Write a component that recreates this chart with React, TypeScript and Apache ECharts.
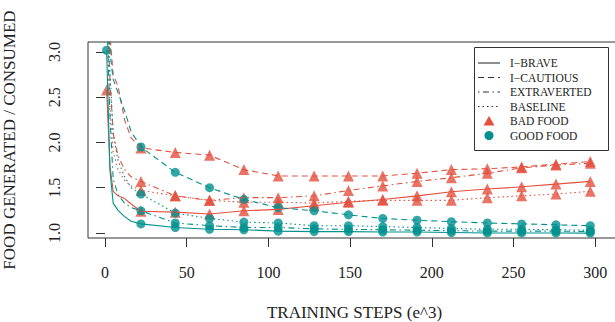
import React, { useEffect, useRef } from "react";
import * as echarts from "echarts";

const STEPS = [1, 22, 43, 64, 85, 106, 128, 149, 170, 191, 212, 234, 255, 276, 297];
const EARLY_STEPS = [3, 5, 8, 12, 16];

const BRAVE_BAD = [2.58, 1.24, 1.23, 1.21, 1.245, 1.26, 1.3, 1.34, 1.37, 1.41, 1.455, 1.485, 1.51, 1.54, 1.57];
const CAUTIOUS_BAD = [3.8, 1.94, 1.89, 1.86, 1.7, 1.63, 1.63, 1.63, 1.63, 1.66, 1.7, 1.71, 1.73, 1.76, 1.79];
const EXTRA_BAD = [3.6, 1.57, 1.41, 1.36, 1.39, 1.39, 1.41, 1.47, 1.52, 1.57, 1.61, 1.66, 1.72, 1.75, 1.77];
const BASE_BAD = [3.4, 1.47, 1.41, 1.36, 1.34, 1.34, 1.33, 1.35, 1.36, 1.36, 1.36, 1.39, 1.41, 1.43, 1.46];

const BRAVE_GOOD = [3.02, 1.1, 1.06, 1.04, 1.035, 1.02, 1.015, 1.015, 1.01, 1.01, 1.005, 1.0, 1.0, 1.0, 0.998];
const CAUTIOUS_GOOD = [3.7, 1.95, 1.67, 1.5, 1.37, 1.28, 1.245, 1.2, 1.16, 1.14, 1.125, 1.11, 1.1, 1.09, 1.08];
const EXTRA_GOOD = [3.5, 1.245, 1.11, 1.08, 1.06, 1.06, 1.045, 1.04, 1.035, 1.03, 1.025, 1.02, 1.02, 1.02, 1.015];
const BASE_GOOD = [3.6, 1.43, 1.22, 1.16, 1.12, 1.11, 1.08, 1.08, 1.07, 1.06, 1.05, 1.04, 1.04, 1.035, 1.03];

const BRAVE_BAD_EARLY = [1.75, 1.46, 1.41, 1.38, 1.32];
const CAUTIOUS_BAD_EARLY = [3.2, 2.75, 2.62, 2.25, 2.05];
const EXTRA_BAD_EARLY = [2.7, 2.1, 1.85, 1.7, 1.62];
const BASE_BAD_EARLY = [2.4, 1.9, 1.7, 1.58, 1.52];
const BRAVE_GOOD_EARLY = [1.7, 1.33, 1.25, 1.18, 1.13];
const CAUTIOUS_GOOD_EARLY = [3.0, 2.7, 2.55, 2.35, 2.12];
const EXTRA_GOOD_EARLY = [2.3, 1.6, 1.42, 1.33, 1.28];
const BASE_GOOD_EARLY = [2.8, 2.1, 1.8, 1.62, 1.5];

const X_TICKS = [0, 50, 100, 150, 200, 250, 300];
const Y_TICKS = [1.0, 1.5, 2.0, 2.5, 3.0];

const LEGEND_LABELS = ["I\u2212BRAVE", "I\u2212CAUTIOUS", "EXTRAVERTED", "BASELINE", "BAD FOOD", "GOOD FOOD"];

const RED = "#E4503F";
const TEAL = "#00918E";
const FONT = "'Liberation Serif', 'Times New Roman', serif";

const DASHES: Record<string, any> = {
  solid: "solid",
  dashed: [6, 4],
  dotdash: [1.5, 3.5, 6, 3.5],
  dotted: [1.5, 3],
};

function merge(early: number[], main: number[]) {
  const pts: number[][] = [];
  pts.push([STEPS[0], main[0]]);
  EARLY_STEPS.forEach((s, i) => pts.push([s, early[i]]));
  for (let i = 1; i < STEPS.length; i++) pts.push([STEPS[i], main[i]]);
  return pts;
}

export default function App() {
  const ref = useRef<HTMLDivElement>(null);
  useEffect(() => {
    if (!ref.current) return;
    const chart = echarts.init(ref.current, null, { renderer: "svg" });

    const groups = [
      { main: BRAVE_BAD, early: BRAVE_BAD_EARLY, color: RED, dash: "solid", sym: "triangle" },
      { main: CAUTIOUS_BAD, early: CAUTIOUS_BAD_EARLY, color: RED, dash: "dashed", sym: "triangle" },
      { main: EXTRA_BAD, early: EXTRA_BAD_EARLY, color: RED, dash: "dotdash", sym: "triangle" },
      { main: BASE_BAD, early: BASE_BAD_EARLY, color: RED, dash: "dotted", sym: "triangle" },
      { main: BRAVE_GOOD, early: BRAVE_GOOD_EARLY, color: TEAL, dash: "solid", sym: "circle" },
      { main: CAUTIOUS_GOOD, early: CAUTIOUS_GOOD_EARLY, color: TEAL, dash: "dashed", sym: "circle" },
      { main: EXTRA_GOOD, early: EXTRA_GOOD_EARLY, color: TEAL, dash: "dotdash", sym: "circle" },
      { main: BASE_GOOD, early: BASE_GOOD_EARLY, color: TEAL, dash: "dotted", sym: "circle" },
    ];

    const series: any[] = [];
    groups.forEach((g) => {
      series.push({
        type: "line",
        data: merge(g.early, g.main),
        showSymbol: false,
        symbol: "none",
        clip: true,
        lineStyle: { color: g.color, width: 1.1, type: DASHES[g.dash] },
        silent: true,
      });
      series.push({
        type: "scatter",
        data: STEPS.map((s, i) => [s, g.main[i]]),
        symbol: g.sym,
        symbolSize: g.sym === "triangle" ? 11 : 9,
        clip: true,
        itemStyle: { color: g.color },
        silent: true,
      });
    });

    const lx1 = 478, lx2 = 500, ltx = 510;
    const rows = [63, 77.5, 92, 106.5, 121, 135.5];
    const legendGraphics: any[] = [
      {
        type: "rect",
        shape: { x: 474.5, y: 47.5, width: 134, height: 103 },
        style: { fill: "#fff", stroke: "#333", lineWidth: 1 },
        z: 100,
      },
    ];
    const dashKeys = ["solid", "dashed", "dotdash", "dotted"];
    dashKeys.forEach((k, i) => {
      legendGraphics.push({
        type: "line",
        shape: { x1: lx1, y1: rows[i], x2: lx2, y2: rows[i] },
        style: { stroke: "#333", lineWidth: 1.1, lineDash: k === "solid" ? null : DASHES[k] },
        z: 101,
      });
    });
    const cx = (lx1 + lx2) / 2;
    legendGraphics.push({
      type: "polygon",
      shape: { points: [[cx, rows[4] - 5], [cx + 5.5, rows[4] + 4.5], [cx - 5.5, rows[4] + 4.5]] },
      style: { fill: RED },
      z: 101,
    });
    legendGraphics.push({
      type: "circle",
      shape: { cx, cy: rows[5], r: 4.5 },
      style: { fill: TEAL },
      z: 101,
    });
    LEGEND_LABELS.forEach((t, i) => {
      legendGraphics.push({
        type: "text",
        x: ltx,
        y: rows[i],
        style: { text: t, fill: "#222", font: `11.5px ${FONT}`, textVerticalAlign: "middle", textAlign: "left" },
        z: 101,
      });
    });

    chart.setOption({
      animation: false,
      textStyle: { fontFamily: FONT },
      grid: {
        left: 88,
        top: 42,
        width: 533,
        height: 196,
        outerBoundsMode: "none",
        containLabel: false,
        show: true,
        borderColor: "#333",
        borderWidth: 1,
        backgroundColor: "transparent",
      },
      xAxis: {
        type: "value",
        min: -10.4,
        max: 315.8,
        name: "TRAINING STEPS (e^3)",
        nameLocation: "middle",
        nameGap: 66,
        nameTextStyle: { fontFamily: FONT, fontSize: 17, color: "#222" },
        axisLine: { show: false },
        splitLine: { show: false },
        axisTick: { show: true, inside: false, length: 9, customValues: X_TICKS, lineStyle: { color: "#333" } },
        axisLabel: { customValues: X_TICKS, margin: 26, fontSize: 16, fontFamily: FONT, color: "#222" },
      },
      yAxis: {
        type: "value",
        min: 0.944,
        max: 3.111,
        name: "FOOD GENERATED / CONSUMED",
        nameLocation: "middle",
        nameRotate: 90,
        nameGap: 70,
        nameTextStyle: { fontFamily: FONT, fontSize: 17, color: "#222" },
        axisLine: { show: false },
        splitLine: { show: false },
        axisTick: { show: true, inside: false, length: 9, customValues: Y_TICKS, lineStyle: { color: "#333" } },
        axisLabel: {
          customValues: Y_TICKS,
          rotate: 90,
          margin: 26,
          fontSize: 16,
          fontFamily: FONT,
          color: "#222",
          formatter: (v: number) => v.toFixed(1),
        },
      },
      graphic: legendGraphics,
      series,
    });
    return () => chart.dispose();
  }, []);
  return (
    <div
      ref={ref}
      style={{ position: "fixed", left: 0, top: 0, width: 615, height: 322, background: "#fff" }}
    />
  );
}
